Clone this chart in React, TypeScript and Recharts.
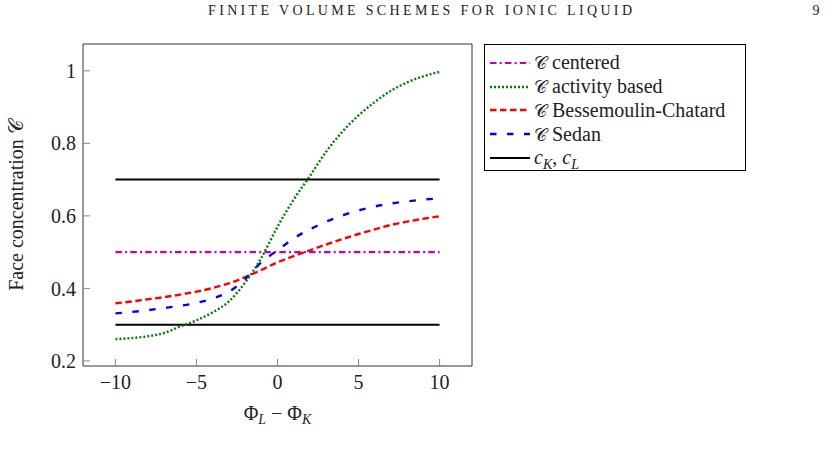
import React from 'react';
import { LineChart, Line, XAxis, YAxis, Legend, Label } from 'recharts';

const xValues = [-10, -9, -8, -7, -6, -5, -4, -3, -2, -1, 0, 1, 2, 3, 4, 5, 6, 7, 8, 9, 10];
const centeredValues = [0.5, 0.5, 0.5, 0.5, 0.5, 0.5, 0.5, 0.5, 0.5, 0.5, 0.5, 0.5, 0.5, 0.5, 0.5, 0.5, 0.5, 0.5, 0.5, 0.5, 0.5];
const activityValues = [0.26, 0.263, 0.268, 0.277, 0.295, 0.312, 0.334, 0.364, 0.416, 0.484, 0.57, 0.645, 0.71, 0.777, 0.832, 0.877, 0.914, 0.945, 0.968, 0.985, 0.997];
const bessemoulinValues = [0.359, 0.364, 0.37, 0.376, 0.383, 0.391, 0.401, 0.414, 0.431, 0.451, 0.472, 0.489, 0.505, 0.521, 0.536, 0.55, 0.563, 0.575, 0.584, 0.592, 0.599];
const sedanValues = [0.331, 0.335, 0.34, 0.346, 0.352, 0.36, 0.372, 0.391, 0.425, 0.472, 0.505, 0.538, 0.563, 0.584, 0.601, 0.615, 0.626, 0.634, 0.64, 0.645, 0.648];
const cKValues = [0.3, 0.3, 0.3, 0.3, 0.3, 0.3, 0.3, 0.3, 0.3, 0.3, 0.3, 0.3, 0.3, 0.3, 0.3, 0.3, 0.3, 0.3, 0.3, 0.3, 0.3];
const cLValues = [0.7, 0.7, 0.7, 0.7, 0.7, 0.7, 0.7, 0.7, 0.7, 0.7, 0.7, 0.7, 0.7, 0.7, 0.7, 0.7, 0.7, 0.7, 0.7, 0.7, 0.7];
const xTicks = [-10, -5, 0, 5, 10];
const yTicks = [0.2, 0.4, 0.6, 0.8, 1];
const xDomain = [-12, 12];
const yDomain = [0.186, 1.074];

const data = xValues.map((x, i) => ({
  x,
  centered: centeredValues[i],
  activity: activityValues[i],
  bessemoulin: bessemoulinValues[i],
  sedan: sedanValues[i],
  cK: cKValues[i],
  cL: cLValues[i],
}));

const FONT = '"Liberation Serif", "Times New Roman", serif';
const CAL = '𝒞';

const MAGENTA = '#c000c0';
const GREEN = '#008000';
const RED = '#ff0000';
const BLUE = '#0000ff';

const styles = {
  centered: { color: MAGENTA, dash: '6.5 3.2 2 3.2', width: 2.2 },
  activity: { color: GREEN, dash: '2 2', width: 2.4 },
  bessemoulin: { color: RED, dash: '6.5 3.5', width: 2.4 },
  sedan: { color: BLUE, dash: '6.5 10.5', width: 2.4 },
  c: { color: '#000', dash: undefined as string | undefined, width: 2 },
};

const fmtX = (v: number) => (v < 0 ? '\u2212' + Math.abs(v) : String(v));

const Cal = () => <span style={{ fontSize: 18, lineHeight: '20px' }}>{CAL}</span>;

const LegendBox = () => {
  const rows: { key: keyof typeof styles; label: React.ReactNode }[] = [
    { key: 'centered', label: <><Cal /> centered</> },
    { key: 'activity', label: <><Cal /> activity based</> },
    { key: 'bessemoulin', label: <><Cal /> Bessemoulin-Chatard</> },
    { key: 'sedan', label: <><Cal /> Sedan</> },
    {
      key: 'c',
      label: (
        <>
          <i>c</i>
          <sub style={{ fontSize: 14, fontStyle: 'italic', lineHeight: '10px' }}>K</sub>, <i>c</i>
          <sub style={{ fontSize: 14, fontStyle: 'italic', lineHeight: '10px' }}>L</sub>
        </>
      ),
    },
  ];
  return (
    <div
      style={{
        width: 262,
        height: 127,
        boxSizing: 'border-box',
        border: '1px solid #000',
        background: '#fff',
        paddingTop: 6,
        fontFamily: FONT,
        fontSize: 20,
        color: '#222',
      }}
    >
      {rows.map((r) => {
        const s = styles[r.key];
        return (
          <div key={r.key} style={{ height: 23.8, display: 'flex', alignItems: 'center', whiteSpace: 'nowrap', overflow: 'visible' }}>
            <svg width={42} height={10} style={{ marginLeft: 4, flex: 'none' }}>
              <line x1={1} y1={5} x2={41} y2={5} stroke={s.color} strokeWidth={s.width} strokeDasharray={s.dash} />
            </svg>
            <span style={{ marginLeft: 3, lineHeight: '20px', fontFamily: FONT }}>{r.label}</span>
          </div>
        );
      })}
    </div>
  );
};

const XLabel = (props: any) => {
  const vb = props.viewBox || {};
  const cx = vb.x + vb.width / 2;
  return (
    <text x={cx} y={420} textAnchor="middle" fontFamily={FONT} fontSize={20} fill="#222">
      Φ<tspan fontSize={14} fontStyle="italic" dy={4}>L</tspan>
      <tspan dy={-4}> {'\u2212'} Φ</tspan>
      <tspan fontSize={14} fontStyle="italic" dy={4}>K</tspan>
    </text>
  );
};

const YLabel = (props: any) => {
  const vb = props.viewBox || {};
  const cy = vb.y + vb.height / 2;
  return (
    <text
      x={22.5}
      y={cy}
      transform={`rotate(-90 22.5 ${cy})`}
      textAnchor="middle"
      fontFamily={FONT}
      fontSize={20}
      fill="#222"
    >
      Face concentration {CAL}
    </text>
  );
};

const tickStyle = { fontFamily: FONT, fontSize: 20, fill: '#222' };
const axisLine = { stroke: '#333', strokeWidth: 1 };
const tickLine = { stroke: '#888', strokeWidth: 1 };

export default function App() {
  return (
    <div style={{ position: 'absolute', left: 0, top: 0, width: 833, height: 454, background: '#fff' }}>
      <svg width={833} height={30} style={{ position: 'absolute', left: 0, top: 0 }}>
        <text x={420} y={15} textAnchor="middle" fontFamily={FONT} fontSize={14} fill="#222" textLength={424} lengthAdjust="spacing">
          FINITE VOLUME SCHEMES FOR IONIC LIQUID
        </text>
        <text x={816} y={15} textAnchor="middle" fontFamily={FONT} fontSize={14} fill="#222">
          9
        </text>
      </svg>
      <LineChart width={833} height={454} data={data} margin={{ top: 43, right: 360, bottom: 38, left: 0 }}>
        <XAxis
          dataKey="x"
          type="number"
          domain={xDomain}
          ticks={xTicks}
          allowDataOverflow
          height={50}
          tickSize={-7}
          tickMargin={16}
          tickFormatter={fmtX}
          tick={tickStyle}
          axisLine={axisLine}
          tickLine={tickLine}
        >
          <Label content={<XLabel />} />
        </XAxis>
        <XAxis
          xAxisId="top"
          orientation="top"
          dataKey="x"
          type="number"
          domain={xDomain}
          ticks={xTicks}
          allowDataOverflow
          height={1}
          tickSize={-7}
          tick={false}
          axisLine={axisLine}
          tickLine={tickLine}
        />
        <YAxis
          type="number"
          domain={yDomain}
          ticks={yTicks}
          allowDataOverflow
          width={83}
          tickSize={-7}
          tickMargin={14}
          tick={tickStyle}
          axisLine={axisLine}
          tickLine={tickLine}
        >
          <Label content={<YLabel />} />
        </YAxis>
        <YAxis
          yAxisId="right"
          orientation="right"
          type="number"
          domain={yDomain}
          ticks={yTicks}
          allowDataOverflow
          width={1}
          tickSize={-7}
          tick={false}
          axisLine={axisLine}
          tickLine={tickLine}
        />
        <Legend
          layout="vertical"
          align="center"
          verticalAlign="middle"
          content={() => <LegendBox />}
          wrapperStyle={{ left: 484, top: 44, width: 262, height: 127 }}
        />
        <Line dataKey="cK" type="linear" stroke={styles.c.color} strokeWidth={styles.c.width} dot={false} activeDot={false} isAnimationActive={false} legendType="none" />
        <Line dataKey="cL" type="linear" stroke={styles.c.color} strokeWidth={styles.c.width} dot={false} activeDot={false} isAnimationActive={false} legendType="none" />
        <Line dataKey="centered" type="linear" stroke={styles.centered.color} strokeWidth={styles.centered.width} strokeDasharray={styles.centered.dash} dot={false} activeDot={false} isAnimationActive={false} />
        <Line dataKey="bessemoulin" type="monotone" stroke={styles.bessemoulin.color} strokeWidth={styles.bessemoulin.width} strokeDasharray={styles.bessemoulin.dash} dot={false} activeDot={false} isAnimationActive={false} />
        <Line dataKey="sedan" type="monotone" stroke={styles.sedan.color} strokeWidth={styles.sedan.width} strokeDasharray={styles.sedan.dash} dot={false} activeDot={false} isAnimationActive={false} />
        <Line dataKey="activity" type="monotone" stroke={styles.activity.color} strokeWidth={styles.activity.width} strokeDasharray={styles.activity.dash} dot={false} activeDot={false} isAnimationActive={false} />
      </LineChart>
    </div>
  );
}
